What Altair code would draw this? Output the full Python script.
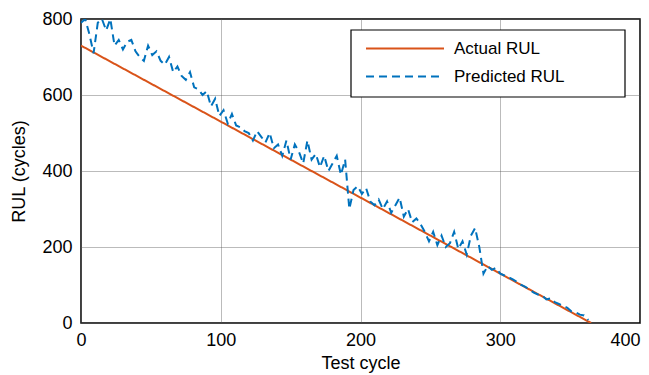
import altair as alt
import pandas as pd

# Actual RUL (straight line)
actual_x = [0, 365]
actual_y = [730, 0]

# Predicted RUL (every 3 cycles)
pred_x = list(range(0, 364, 3))
pred_y = [790, 800, 760, 710, 790, 800, 770, 800, 730, 745,
          720, 740, 745, 715, 700, 690, 730, 705, 715, 690,
          680, 700, 660, 675, 650, 640, 660, 620, 615, 600,
          610, 570, 590, 545, 560, 525, 550, 520, 515, 505,
          500, 480, 505, 490, 475, 500, 460, 470, 440, 480,
          430, 470, 450, 420, 480, 430, 445, 410, 440, 400,
          420, 440, 390, 430, 300, 350, 360, 340, 355, 320,
          310, 325, 300, 320, 290, 310, 330, 280, 300, 265,
          275, 260, 240, 215, 240, 205, 230, 200, 210, 240,
          195, 215, 180, 230, 250, 200, 130, 150, 140, 145,
          130, 125, 120, 115, 108, 100, 95, 88, 80, 75,
          72, 62, 65, 55, 50, 45, 40, 30, 28, 22,
          20, 8]

series = ["Actual RUL", "Predicted RUL"]
colors = ["#D95319", "#0072BD"]
dashes = [[1, 0], [8, 5]]

df = pd.concat([
    pd.DataFrame({"x": actual_x, "y": actual_y, "s": series[0]}),
    pd.DataFrame({"x": pred_x, "y": pred_y, "s": series[1]}),
])

font = "Liberation Sans"

leg = alt.Legend(title=None, orient="none", legendX=269, legendY=11)

lines = alt.Chart(df).mark_line(strokeWidth=2, clip=True).encode(
    x=alt.X("x:Q", title="Test cycle",
            scale=alt.Scale(domain=[0, 400], nice=False),
            axis=alt.Axis(values=[0, 100, 200, 300, 400], labelFlush=False,
                          labelAlign={"condition": {"test": "datum.value == 400", "value": "right"},
                                      "value": "center"},
                          labelPadding=8, titlePadding=5)),
    y=alt.Y("y:Q", title="RUL (cycles)",
            scale=alt.Scale(domain=[0, 800], nice=False),
            axis=alt.Axis(values=[0, 200, 400, 600, 800], labelFlush=False,
                          labelPadding=9, titlePadding=13)),
    color=alt.Color("s:N", scale=alt.Scale(domain=series, range=colors), legend=leg),
    strokeDash=alt.StrokeDash("s:N", scale=alt.Scale(domain=series, range=dashes), legend=leg),
    order="x:Q",
)

box = alt.Chart(df).mark_rect(fill="white", stroke="black", strokeWidth=1.2).encode(
    x=alt.value(270), x2=alt.value(544), y=alt.value(11), y2=alt.value(78)
).transform_filter("datum.x == 0 && datum.s == 'Actual RUL'")

chart = alt.layer(lines, box).properties(
    width=559, height=304,
    autosize=alt.AutoSizeParams(type="none"),
    padding={"left": 81, "top": 19, "right": 9, "bottom": 52},
).configure_view(
    stroke="black", strokeWidth=1.5
).configure_axis(
    labelFont=font, titleFont=font, labelFontSize=18, titleFontSize=18,
    labelColor="black", titleColor="black", titleFontWeight="normal",
    grid=True, gridColor="#555", gridDash=[1, 1], gridOpacity=0.8,
    domain=False, ticks=False,
).configure_legend(
    labelFont=font, labelFontSize=17, labelColor="black",
    symbolType="M-0.2,0H6.04", symbolSize=625, symbolStrokeWidth=2,
    padding=5, rowPadding=6, labelOffset=72, labelLimit=300,
)

chart.save("out.html", embed_options={"renderer": "svg", "actions": False})
